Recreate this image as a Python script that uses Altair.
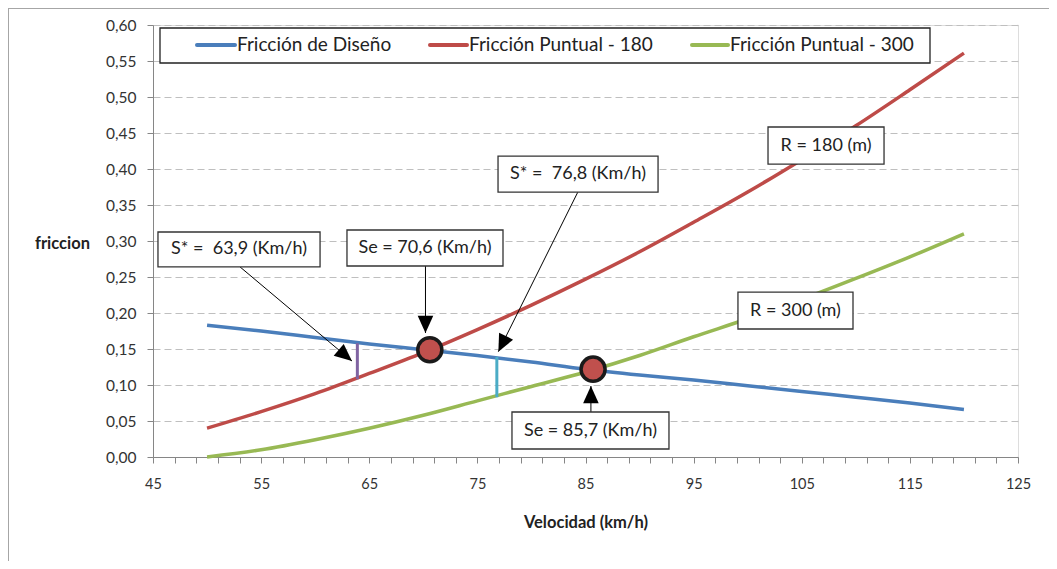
import math
import altair as alt
import pandas as pd

# ---------------- data ----------------
velocidad = [50, 55, 60, 65, 70, 75, 80, 85, 90, 95, 100, 105, 110, 115, 120]
friccion_diseno = [0.183, 0.175, 0.166, 0.157, 0.149, 0.141, 0.132, 0.122, 0.114, 0.107, 0.099, 0.091, 0.083, 0.075, 0.066]
friccion_180 = [0.040, 0.063, 0.088, 0.116, 0.145, 0.177, 0.211, 0.247, 0.285, 0.326, 0.368, 0.413, 0.460, 0.510, 0.561]
friccion_300 = [0.000, 0.010, 0.024, 0.040, 0.058, 0.078, 0.098, 0.118, 0.141, 0.167, 0.192, 0.219, 0.248, 0.278, 0.310]

series_names = ["Fricción de Diseño", "Fricción Puntual - 180", "Fricción Puntual - 300"]
series_colors = ["#4A7EBB", "#BE4B48", "#98B954"]

# equilibrium points (Se)
se_vel = [70.6, 85.7]
se_fric = [0.149, 0.122]

# S* vertical segments
sstar_vel = [63.9, 76.8]
sstar_low = [0.108, 0.083]
sstar_high = [0.158, 0.139]
sstar_colors = ["#8064A2", "#4BACC6"]

# annotation boxes (data coords)
box_labels = ["S* =\u00a0 63,9 (Km/h)", "Se = 70,6 (Km/h)", "S* =\u00a0 76,8 (Km/h)",
              "R = 180 (m)", "R = 300 (m)", "Se = 85,7 (Km/h)"]
box_x1 = [45.46, 62.94, 76.91, 101.88, 99.10, 78.20]
box_x2 = [60.45, 77.37, 91.71, 112.61, 109.74, 92.72]
box_y1 = [0.3125, 0.3153, 0.4180, 0.4583, 0.2290, 0.0625]
box_y2 = [0.2640, 0.2653, 0.3680, 0.4069, 0.1778, 0.0111]

# arrows (data coords): from -> tip
arr_x0 = [53.05, 70.20, 84.28, 85.50]
arr_y0 = [0.2640, 0.2653, 0.3676, 0.0625]
arr_x1 = [63.40, 70.20, 76.94, 85.50]
arr_y1 = [0.1333, 0.1722, 0.1463, 0.0986]

# ---------------- layout ----------------
W, H = 865, 432
PAD_L, PAD_T, PAD_R, PAD_B = 145, 17, 31, 104
XMIN, XMAX, YMIN, YMAX = 45, 125, 0.0, 0.6
px_x = W / (XMAX - XMIN)
px_y = H / (YMAX - YMIN)
FONT = "Lato"

xs = alt.Scale(domain=[XMIN, XMAX], nice=False, zero=False)
ys = alt.Scale(domain=[YMIN, YMAX], nice=False, zero=False)

x_axis = alt.Axis(
    values=list(range(45, 126, 2)),
    labelExpr="(datum.value - 45) % 10 == 0 ? datum.value : ''",
    title="Velocidad (km/h)", titleFont=FONT, titleFontSize=16.5, titleFontWeight="bold",
    titleColor="#222222", titlePadding=24,
    labelFont=FONT, labelFontSize=14.5, labelColor="#333333", labelPadding=14,
    tickSize=6, tickColor="#868686", domainColor="#868686", grid=False,
    labelFlush=False, labelOverlap=False,
)
y_axis = alt.Axis(
    values=[round(i * 0.05, 2) for i in range(13)],
    labelExpr="replace(format(datum.value, '.2f'), '.', ',')",
    title="friccion", titleAngle=0, titleFont=FONT, titleFontSize=16.5, titleFontWeight="bold",
    titleColor="#222222", titleX=-91, titleY=218, titleAlign="center", titleBaseline="middle",
    labelFont=FONT, labelFontSize=15.5, labelColor="#333333", labelPadding=11,
    tickSize=6, tickColor="#868686", domainColor="#868686", labelOverlap=False,
    labelFlush=False,
    grid=True, gridDash=[7, 4], gridColor="#BFBFBF", gridWidth=1.2,
)


def X(field):
    return alt.X(field, scale=xs, axis=x_axis)


def Y(field):
    return alt.Y(field, scale=ys, axis=y_axis)


rows = []
for name, vals in zip(series_names, [friccion_diseno, friccion_180, friccion_300]):
    for v, f in zip(velocidad, vals):
        rows.append({"velocidad": v, "friccion": f, "serie": name})
df = pd.DataFrame(rows)

lines = alt.Chart(df).mark_line(strokeWidth=3.5, interpolate="monotone").encode(
    x=X("velocidad:Q"),
    y=Y("friccion:Q"),
    color=alt.Color("serie:N", scale=alt.Scale(domain=series_names, range=series_colors), legend=None),
    detail="serie:N",
)

sstar_df = pd.DataFrame({"v": sstar_vel, "lo": sstar_low, "hi": sstar_high, "c": sstar_colors})
sstar = alt.Chart(sstar_df).mark_rule(strokeWidth=3).encode(
    x=X("v:Q"), y=Y("lo:Q"), y2="hi:Q",
    color=alt.Color("c:N", scale=None),
)

se_df = pd.DataFrame({"v": se_vel, "f": se_fric})
se_pts = alt.Chart(se_df).mark_point(
    shape="circle", filled=True, fill="#C0504D", stroke="#1A1A1A", strokeWidth=3.5,
    size=580, opacity=1,
).encode(x=X("v:Q"), y=Y("f:Q"))

angles = []
for a, b, c, d in zip(arr_x0, arr_y0, arr_x1, arr_y1):
    dx = (c - a) * px_x
    dy = -(d - b) * px_y
    angles.append(math.degrees(math.atan2(dx, -dy)) % 360)
arr_df = pd.DataFrame({"x0": arr_x0, "y0": arr_y0, "x1": arr_x1, "y1": arr_y1, "ang": angles})
arr_lines = alt.Chart(arr_df).mark_rule(strokeWidth=1, color="#000000").encode(
    x=X("x0:Q"), y=Y("y0:Q"), x2="x1:Q", y2="y1:Q",
)
arr_heads = alt.Chart(arr_df).mark_point(
    shape="M0,0 L-0.9,2 L0.9,2 Z", filled=True, color="#000000", size=300, opacity=1,
).encode(
    x=X("x1:Q"), y=Y("y1:Q"),
    angle=alt.Angle("ang:Q", scale=None),
)

box_df = pd.DataFrame({
    "label": box_labels, "x1": box_x1, "x2": box_x2, "y1": box_y1, "y2": box_y2,
})
box_df["cx"] = (box_df["x1"] + box_df["x2"]) / 2
box_df["cy"] = (box_df["y1"] + box_df["y2"]) / 2
boxes = alt.Chart(box_df).mark_rect(fill="white", stroke="#333333", strokeWidth=1.3).encode(
    x=X("x1:Q"), x2="x2:Q", y=Y("y1:Q"), y2="y2:Q",
)
box_text = alt.Chart(box_df).mark_text(font=FONT, fontSize=18, color="#222222",
                                       align="center", baseline="middle").encode(
    x=X("cx:Q"), y=Y("cy:Q"), text="label:N",
)

# manual legend (Excel-style box inside plot)
leg_box = alt.Chart(pd.DataFrame({"a": [0]})).mark_rect(
    fill="white", stroke="#222222", strokeWidth=1.3
).encode(x=alt.value(7), x2=alt.value(777), y=alt.value(3), y2=alt.value(38))
leg_df = pd.DataFrame({
    "serie": series_names, "c": series_colors,
    "sx": [44, 277, 539], "ex": [82, 314, 575], "tx": [84, 316, 577], "yy": [20, 20, 20],
})
leg_sym = alt.Chart(leg_df).mark_rule(strokeWidth=4, strokeCap="round").encode(
    x=alt.X("sx:Q", scale=None), x2="ex:Q", y=alt.Y("yy:Q", scale=None),
    color=alt.Color("c:N", scale=None),
)
leg_txt = alt.Chart(leg_df).mark_text(font=FONT, fontSize=19, color="#222222",
                                      align="left", baseline="middle").encode(
    x=alt.X("tx:Q", scale=None), y=alt.Y("yy:Q", scale=None), text="serie:N",
)

# outer chart border (left and top)
border_l = alt.Chart(pd.DataFrame({"a": [0]})).mark_rule(color="#A6A6A6", strokeWidth=1).encode(
    x=alt.value(-PAD_L + 0.5), y=alt.value(-PAD_T), y2=alt.value(H + PAD_B))
border_t = alt.Chart(pd.DataFrame({"a": [0]})).mark_rule(color="#A6A6A6", strokeWidth=1).encode(
    x=alt.value(-PAD_L), x2=alt.value(W + PAD_R), y=alt.value(-PAD_T + 0.5))

chart = alt.layer(
    lines, sstar, arr_lines, arr_heads, boxes, box_text, se_pts,
    leg_box, leg_sym, leg_txt, border_l, border_t,
).properties(
    width=W, height=H,
    autosize=alt.AutoSizeParams(type="none"),
    padding={"left": PAD_L, "top": PAD_T, "right": PAD_R, "bottom": PAD_B},
).configure_view(stroke=None).configure(background="white")

chart.save("out.html", embed_options={"renderer": "svg", "actions": False})
